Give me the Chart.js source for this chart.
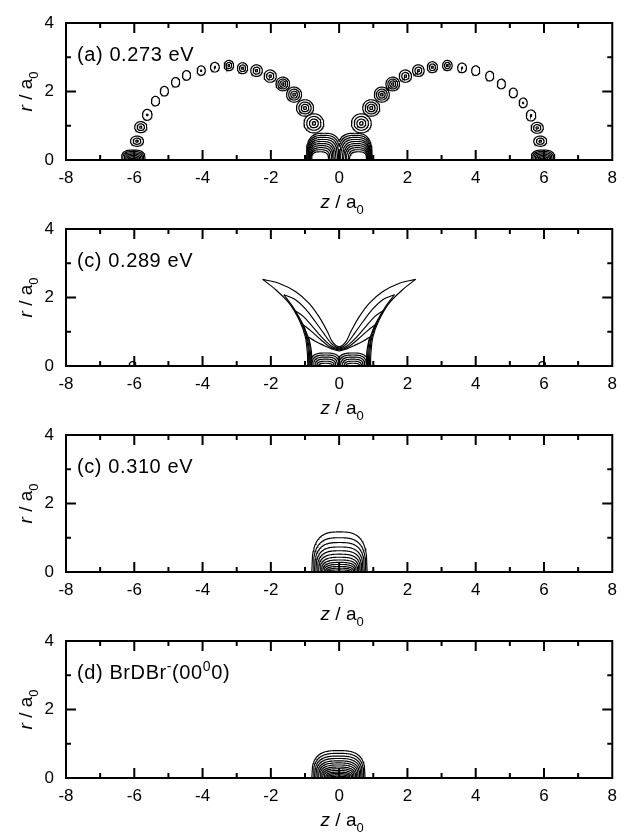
<!DOCTYPE html>
<html>
<head>
<meta charset="utf-8">
<title>Contour panels</title>
<script src="https://cdn.jsdelivr.net/npm/chart.js@4.4.1/dist/chart.umd.min.js"></script>
<style>
  html, body { margin: 0; padding: 0; background: #fff; }
  #wrap { position: relative; width: 625px; height: 832px; overflow: hidden; }
  #wrap canvas { position: absolute; left: 0; }
</style>
</head>
<body>
<div id="wrap">
  <canvas id="panelA" width="625" height="232" style="top:0px"></canvas>
  <canvas id="panelB" width="625" height="232" style="top:206px"></canvas>
  <canvas id="panelC" width="625" height="232" style="top:412px"></canvas>
  <canvas id="panelD" width="625" height="214" style="top:618px"></canvas>
</div>
<script>
// axis ranges
const zRange = [-8, 8];
const rRange = [0, 4];

// (a) 0.273 eV - lobes along the two arcs: centre, semi-axes, number of rings
const lobeZ = [-5.92, -5.81, -5.62, -5.38, -5.12, -4.79, -4.47, -4.04, -3.64, -3.23, -2.83, -2.42, -2.02, -1.65, -1.32, -1.00, -0.74,
               0.65, 0.94, 1.25, 1.57, 1.94, 2.32, 2.73, 3.17, 3.60, 4.00, 4.41, 4.75, 5.10, 5.39, 5.62, 5.80, 5.89];
const lobeR = [0.55, 0.96, 1.32, 1.72, 2.01, 2.27, 2.47, 2.61, 2.71, 2.76, 2.68, 2.61, 2.45, 2.22, 1.91, 1.52, 1.07,
               1.07, 1.52, 1.91, 2.22, 2.45, 2.61, 2.71, 2.76, 2.69, 2.61, 2.45, 2.22, 1.96, 1.67, 1.30, 0.94, 0.55];
const lobeAz = [0.19, 0.18, 0.14, 0.12, 0.12, 0.12, 0.12, 0.12, 0.13, 0.14, 0.15, 0.17, 0.18, 0.20, 0.22, 0.25, 0.29,
                0.29, 0.25, 0.22, 0.20, 0.18, 0.17, 0.15, 0.14, 0.13, 0.12, 0.12, 0.12, 0.12, 0.12, 0.14, 0.18, 0.19];
const lobeAr = [0.15, 0.16, 0.16, 0.14, 0.14, 0.14, 0.14, 0.14, 0.14, 0.15, 0.16, 0.17, 0.18, 0.20, 0.22, 0.24, 0.28,
                0.28, 0.24, 0.22, 0.20, 0.18, 0.17, 0.16, 0.15, 0.14, 0.14, 0.14, 0.14, 0.14, 0.14, 0.16, 0.16, 0.15];
const lobeRings = [3, 3, 2, 1, 1, 1, 1, 2, 2, 3, 3, 3, 3, 4, 4, 4, 4,
                   4, 4, 4, 4, 3, 3, 3, 3, 2, 1, 1, 1, 1, 2, 2, 3, 3];

// (a) caps sitting on the axis at both ends
const capZ = [-6.03, 5.97];
const capHalfW = [0.35, 0.31, 0.27, 0.23, 0.19, 0.15, 0.11];
const capH = [0.29, 0.25, 0.21, 0.17, 0.13, 0.09, 0.05];

// (a) central double lobe
const twinAH = [0.78, 0.72, 0.66, 0.60, 0.54, 0.48, 0.42, 0.36, 0.30, 0.24];
const twinAW = [0.52, 0.49, 0.46, 0.43, 0.40, 0.37, 0.34, 0.31, 0.28, 0.25];
const twinASep = [0.45, 0.46, 0.47, 0.48, 0.50, 0.51, 0.52, 0.53, 0.55, 0.56];

// (c) 0.289 eV - horn contours, left half: outer edge (base -> tip), inner edge (tip -> centre)
const hornOuter = [
  [[-0.92, 0], [-0.93, 0.37], [-0.99, 0.85], [-1.17, 1.34], [-1.46, 1.83], [-1.85, 2.22], [-2.24, 2.53]],
  [[-0.89, 0], [-0.90, 0.40], [-0.96, 0.85], [-1.12, 1.30], [-1.35, 1.72], [-1.62, 2.08]],
  [[-0.86, 0], [-0.87, 0.40], [-0.93, 0.82], [-1.06, 1.22], [-1.30, 1.62]],
  [[-0.83, 0], [-0.84, 0.40], [-0.89, 0.78], [-1.05, 1.20]],
  [[-0.80, 0], [-0.81, 0.40], [-0.86, 0.70], [-0.90, 0.85]]
];
const hornInner = [
  [[-2.24, 2.53], [-1.75, 2.41], [-1.27, 2.17], [-0.88, 1.83], [-0.59, 1.44], [-0.34, 1.00], [-0.20, 0.71], [0, 0.56]],
  [[-1.62, 2.08], [-1.30, 1.95], [-0.98, 1.66], [-0.70, 1.30], [-0.45, 0.95], [-0.22, 0.65], [0, 0.53]],
  [[-1.30, 1.62], [-1.05, 1.45], [-0.78, 1.15], [-0.52, 0.85], [-0.25, 0.60], [0, 0.50]],
  [[-1.05, 1.20], [-0.82, 1.02], [-0.55, 0.78], [-0.27, 0.56], [0, 0.47]],
  [[-0.90, 0.85], [-0.70, 0.72], [-0.45, 0.60], [-0.22, 0.50], [0, 0.44]]
];
const twinBH = [0.38, 0.32, 0.26, 0.20, 0.14, 0.08];
const twinBW = [0.45, 0.40, 0.35, 0.30, 0.25, 0.20];
const twinBSep = 0.40;
const dotBZ = [-6.05, 5.95];

// (c) 0.310 eV - single dome
const domeCZ = 0.01;
const domeCH = [1.17, 1.00, 0.86, 0.73, 0.62, 0.52, 0.43, 0.35, 0.28, 0.22, 0.16, 0.11, 0.06];
const domeCW = [0.81, 0.77, 0.73, 0.69, 0.65, 0.61, 0.57, 0.53, 0.49, 0.45, 0.41, 0.37, 0.33];

// (d) BrDBr- (00^0 0) - ground state dome
const domeDZ = -0.02;
const domeDH = [0.80, 0.72, 0.64, 0.57, 0.50, 0.44, 0.38, 0.32, 0.27, 0.22, 0.17, 0.13, 0.09, 0.05];
const domeDW = [0.78, 0.74, 0.70, 0.66, 0.62, 0.58, 0.54, 0.50, 0.46, 0.42, 0.38, 0.34, 0.30, 0.26];

const FONT = '"Liberation Sans", Arial, Helvetica, sans-serif';

// ---- curve helpers ----
function ellipse(zc, rc, a, b) {
  const pts = [];
  for (let i = 0; i <= 60; i++) {
    const t = i / 60 * Math.PI * 2;
    pts.push({ x: zc + a * Math.cos(t), y: rc + b * Math.sin(t) });
  }
  return pts;
}

function lobe(d, w, h, p) {
  const t = Math.abs(d / w);
  return t >= 1 ? 0 : h * Math.pow(1 - Math.pow(t, p), 1 / p);
}

function dome(zc, w, h, p) {
  const pts = [];
  for (let i = 0; i <= 80; i++) {
    const z = zc - w + 2 * w * i / 80;
    pts.push({ x: z, y: lobe(z - zc, w, h, p) });
  }
  return pts;
}

function twin(zc, sep, w, h, p) {
  const pts = [];
  const z0 = zc - sep - w, z1 = zc + sep + w;
  for (let i = 0; i <= 140; i++) {
    const z = z0 + (z1 - z0) * i / 140;
    pts.push({ x: z, y: Math.max(lobe(z - zc + sep, w, h, p), lobe(z - zc - sep, w, h, p)) });
  }
  return pts;
}

function line(pts, tension) {
  return {
    data: pts, showLine: true, borderColor: '#000', borderWidth: 1.15,
    pointRadius: 0, tension: tension || 0, fill: false
  };
}

const ringScale = { 1: [1], 2: [1, 0.16], 3: [1, 0.6, 0.2], 4: [1, 0.72, 0.45, 0.18] };

// ---- datasets per panel ----
const setsA = [];
lobeZ.forEach((z, i) => {
  ringScale[lobeRings[i]].forEach(s => setsA.push(line(ellipse(z, lobeR[i], lobeAz[i] * s, lobeAr[i] * s))));
});
capZ.forEach(z => capH.forEach((h, k) => setsA.push(line(dome(z, capHalfW[k], h, 3)))));
twinAH.forEach((h, k) => setsA.push(line(twin(0, twinASep[k], twinAW[k], h, 3))));

const setsB = [];
const toPts = arr => arr.map(p => ({ x: p[0], y: p[1] }));
const mirror = arr => arr.map(p => [-p[0], p[1]]);
hornOuter.forEach((edge, k) => {
  setsB.push(line(toPts(edge), 0.3));
  setsB.push(line(toPts(mirror(edge)), 0.3));
  const inner = hornInner[k];
  const full = inner.concat(mirror(inner.slice(0, -1)).reverse());
  setsB.push(line(toPts(full), 0.3));
});
twinBH.forEach((h, k) => setsB.push(line(twin(0, twinBSep, twinBW[k], h, 3))));
dotBZ.forEach(z => setsB.push(line(ellipse(z, 0.03, 0.1, 0.1))));

const setsC = domeCH.map((h, k) => line(dome(domeCZ, domeCW[k], h, 3)));
const setsD = domeDH.map((h, k) => line(dome(domeDZ, domeDW[k], h, 3)));

// ---- frame, inward ticks, labels and axis titles ----
function drawParts(ctx, parts, x, y, size) {
  let cx = x;
  parts.forEach(([txt, style]) => {
    const sub = style === 'sub', sup = style === 'sup', it = style === 'it';
    const fs = (sub || sup) ? Math.round(size * 0.68) : size;
    ctx.font = (it ? 'italic ' : '') + fs + 'px ' + FONT;
    const dy = sub ? size * 0.3 : sup ? -size * 0.42 : 0;
    ctx.fillText(txt, cx, y + dy);
    cx += ctx.measureText(txt).width;
  });
  return cx - x;
}

function measureParts(ctx, parts, size) {
  let w = 0;
  parts.forEach(([txt, style]) => {
    const fs = (style === 'sub' || style === 'sup') ? Math.round(size * 0.68) : size;
    ctx.font = (style === 'it' ? 'italic ' : '') + fs + 'px ' + FONT;
    w += ctx.measureText(txt).width;
  });
  return w;
}

const framePlugin = {
  id: 'frame',
  afterDatasetsDraw(chart, args, opts) {
    const { ctx, chartArea: a, scales } = chart;
    const xs = scales.x, ys = scales.y;
    ctx.save();
    ctx.strokeStyle = '#000';
    ctx.lineWidth = 2;
    ctx.strokeRect(a.left, a.top, a.right - a.left, a.bottom - a.top);
    ctx.beginPath();
    for (let z = zRange[0] + 1; z < zRange[1]; z++) {
      const px = xs.getPixelForValue(z);
      const len = z % 2 === 0 ? 10 : 5;
      ctx.moveTo(px, a.bottom); ctx.lineTo(px, a.bottom - len);
      ctx.moveTo(px, a.top); ctx.lineTo(px, a.top + len);
    }
    for (let r = rRange[0] + 1; r < rRange[1]; r++) {
      const py = ys.getPixelForValue(r);
      const len = r % 2 === 0 ? 10 : 5;
      ctx.moveTo(a.left, py); ctx.lineTo(a.left + len, py);
      ctx.moveTo(a.right, py); ctx.lineTo(a.right - len, py);
    }
    ctx.stroke();

    ctx.fillStyle = '#000';
    ctx.textBaseline = 'alphabetic';
    ctx.textAlign = 'left';
    // panel label
    ctx.letterSpacing = '0.6px';
    drawParts(ctx, opts.label, a.left + 11, a.top + 38, 20);
    ctx.letterSpacing = '0px';

    // z / a0
    const xt = [['z', 'it'], [' / a', ''], ['0', 'sub']];
    const xw = measureParts(ctx, xt, 19);
    drawParts(ctx, xt, (a.left + a.right) / 2 - xw / 2 + 3, a.bottom + 48, 19);

    // r / a0, rotated
    const yt = [['r', 'it'], [' / a', ''], ['0', 'sub']];
    const yw = measureParts(ctx, yt, 19);
    ctx.translate(32, (a.top + a.bottom) / 2);
    ctx.rotate(-Math.PI / 2);
    drawParts(ctx, yt, -yw / 2, 0, 19);
    ctx.restore();
  }
};

function makePanel(id, datasets, label, height) {
  return new Chart(document.getElementById(id), {
    type: 'scatter',
    data: { datasets },
    options: {
      responsive: false,
      animation: false,
      devicePixelRatio: 1,
      layout: { padding: { top: 23, left: 0, right: 10, bottom: height - 160 - 30 } },
      plugins: { legend: { display: false }, tooltip: { enabled: false }, frame: { label } },
      scales: {
        x: {
          type: 'linear', min: zRange[0], max: zRange[1],
          grid: { display: false, drawTicks: false }, border: { display: false },
          ticks: { stepSize: 2, padding: 8, color: '#000', font: { family: FONT, size: 17 }, maxRotation: 0 },
          afterFit: s => { s.height = 30; }
        },
        y: {
          type: 'linear', min: rRange[0], max: rRange[1],
          grid: { display: false, drawTicks: false }, border: { display: false },
          ticks: { stepSize: 2, padding: 12, color: '#000', font: { family: FONT, size: 17 } },
          afterFit: s => { s.width = 66; }
        }
      }
    },
    plugins: [framePlugin]
  });
}

makePanel('panelA', setsA, [['(a) 0.273 eV', '']], 232);
makePanel('panelB', setsB, [['(c) 0.289 eV', '']], 232);
makePanel('panelC', setsC, [['(c) 0.310 eV', '']], 232);
makePanel('panelD', setsD, [['(d) BrDBr', ''], ['-', 'sup'], ['(00', ''], ['0', 'sup'], ['0)', '']], 214);
</script>
</body>
</html>
